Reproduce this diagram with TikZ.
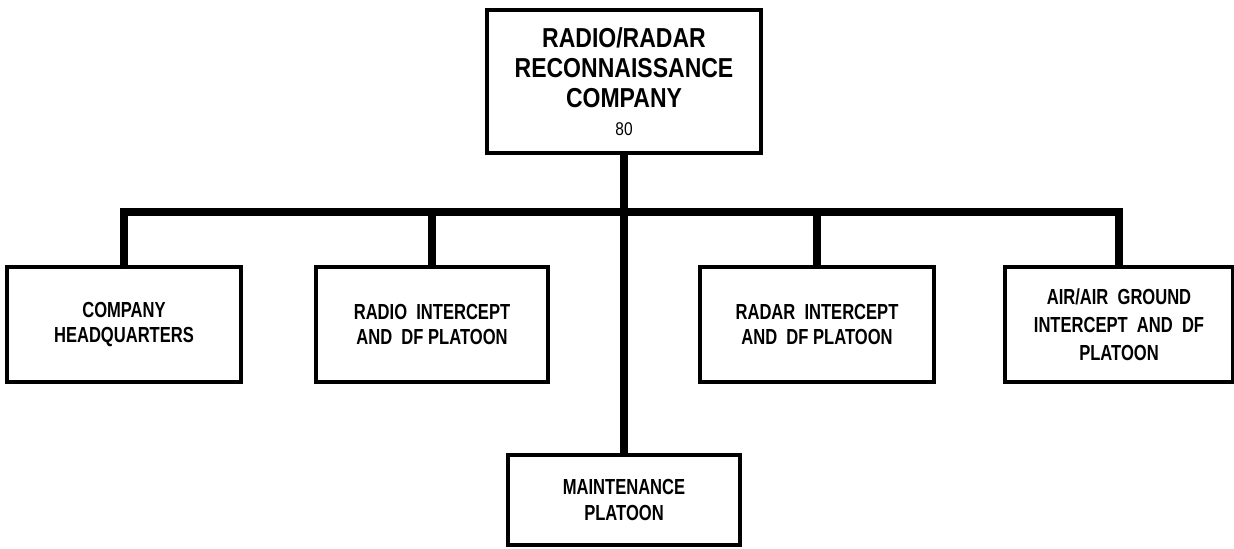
\documentclass[tikz,border=0pt]{standalone}
\usepackage{fontspec}
\setmainfont{Liberation Sans}
\newfontfamily\unitfont{Liberation Sans}[FakeStretch=0.76]
\newfontfamily\headfont{Liberation Sans}[FakeStretch=0.84]
\usetikzlibrary{calc}

\begin{document}
\begin{tikzpicture}[x=0.02cm,y=-0.02cm,line join=miter,
  unit/.style={draw,line width=1.8pt,fill=white,minimum width=4.64cm,minimum height=2.3cm,inner sep=0pt,align=center,font=\unitfont\bfseries\fontsize{12.4}{14.4}\selectfont},
  link/.style={line width=5pt}]
\fill[white] (0,0) rectangle (1234,548);
\useasboundingbox (0,0) rectangle (1234,548);
% top of the chart
\node[unit,minimum width=5.48cm,minimum height=2.86cm,font=\headfont\bfseries\fontsize{15.6}{17}\selectfont] (coy) at (624,81.5) {RADIO/RADAR\\RECONNAISSANCE\\COMPANY\\[-1pt]{\mdseries\fontsize{10.5}{11}\selectfont 80}};
% platoons
\node[unit,minimum width=4.68cm] (hq) at (124,324.5) {COMPANY\\HEADQUARTERS};
\node[unit] (radio) at (432,324.5) {RADIO \ INTERCEPT\\AND \ DF PLATOON};
\node[unit,minimum width=4.68cm] (radar) at (817,324.5) {RADAR \ INTERCEPT\\AND \ DF PLATOON};
\node[unit,minimum width=4.56cm,font=\unitfont\bfseries\fontsize{12.4}{15.8}\selectfont] (air) at (1119,324.5) {AIR/AIR \ GROUND\\INTERCEPT \ AND \ DF\\PLATOON};
\node[unit,minimum height=1.8cm] (maint) at (624,500) {MAINTENANCE\\PLATOON};
\coordinate (bar) at (624,212);
% connectors
\draw[link] (hq.north) -- (hq.north |- bar) -- (air.north |- bar) -- (air.north);
\draw[link] (radio.north) -- (radio.north |- bar);
\draw[link] (radar.north) -- (radar.north |- bar);
\draw[link] (coy.south) -- (maint.north);
\end{tikzpicture}
\end{document}
